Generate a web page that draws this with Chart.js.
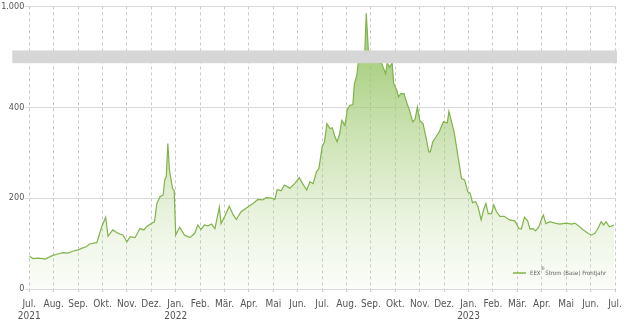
<!DOCTYPE html>
<html>
<head>
<meta charset="utf-8">
<script src="https://cdn.jsdelivr.net/npm/chart.js@4.4.1/dist/chart.umd.min.js"></script>
<style>
  html, body { margin: 0; padding: 0; background: #fff; }
  #wrap { width: 640px; height: 326px; }
</style>
</head>
<body>
<div id="wrap"><canvas id="chart"></canvas></div>
<script>
// Monatsbeschriftung der x-Achse (Jul. 2021 bis Jul. 2023)
const monthLabels = ['Jul.', 'Aug.', 'Sep.', 'Okt.', 'Nov.', 'Dez.', 'Jan.', 'Feb.', 'Mär.', 'Apr.', 'Mai', 'Jun.'];
const yearLabels = { 0: '2021', 6: '2022', 18: '2023' };
const yTickValues = [0, 200, 400, 1000];

// EEX Strom (Base) Frontjahr, EUR/MWh
const dates = [
    '2021-07-01', '2021-07-06', '2021-07-12', '2021-07-18', '2021-07-21', '2021-07-31',
    '2021-08-06', '2021-08-13', '2021-08-19', '2021-08-25', '2021-09-01', '2021-09-06',
    '2021-09-11', '2021-09-15', '2021-09-24', '2021-09-30', '2021-10-05', '2021-10-08',
    '2021-10-14', '2021-10-21', '2021-10-27', '2021-11-01', '2021-11-05', '2021-11-11',
    '2021-11-17', '2021-11-22', '2021-11-25', '2021-12-01', '2021-12-05', '2021-12-08',
    '2021-12-12', '2021-12-16', '2021-12-18', '2021-12-20', '2021-12-22', '2021-12-24',
    '2021-12-28', '2021-12-30', '2022-01-01', '2022-01-06', '2022-01-12', '2022-01-19',
    '2022-01-25', '2022-01-29', '2022-02-02', '2022-02-06', '2022-02-10', '2022-02-14',
    '2022-02-18', '2022-02-23', '2022-02-25', '2022-03-01', '2022-03-07', '2022-03-12',
    '2022-03-16', '2022-03-22', '2022-03-31', '2022-04-06', '2022-04-12', '2022-04-18',
    '2022-04-22', '2022-04-29', '2022-05-03', '2022-05-06', '2022-05-11', '2022-05-15',
    '2022-05-22', '2022-05-28', '2022-06-03', '2022-06-07', '2022-06-12', '2022-06-16',
    '2022-06-20', '2022-06-24', '2022-06-27', '2022-07-01', '2022-07-04', '2022-07-07',
    '2022-07-11', '2022-07-14', '2022-07-17', '2022-07-20', '2022-07-23', '2022-07-26',
    '2022-07-30', '2022-08-02', '2022-08-05', '2022-08-09', '2022-08-11', '2022-08-14',
    '2022-08-16', '2022-08-18', '2022-08-22', '2022-08-24', '2022-08-26', '2022-08-29',
    '2022-08-31', '2022-09-02', '2022-09-06', '2022-09-09', '2022-09-14', '2022-09-19',
    '2022-09-21', '2022-09-24', '2022-09-27', '2022-09-29', '2022-10-03', '2022-10-05',
    '2022-10-08', '2022-10-12', '2022-10-15', '2022-10-19', '2022-10-23', '2022-10-26',
    '2022-10-29', '2022-11-01', '2022-11-05', '2022-11-09', '2022-11-12', '2022-11-14',
    '2022-11-17', '2022-11-21', '2022-11-25', '2022-11-30', '2022-12-05', '2022-12-07',
    '2022-12-10', '2022-12-14', '2022-12-19', '2022-12-23', '2022-12-27', '2022-12-31',
    '2023-01-03', '2023-01-06', '2023-01-10', '2023-01-13', '2023-01-17', '2023-01-20',
    '2023-01-23', '2023-01-26', '2023-01-30', '2023-02-02', '2023-02-05', '2023-02-09',
    '2023-02-14', '2023-02-20', '2023-02-26', '2023-03-03', '2023-03-06', '2023-03-10',
    '2023-03-14', '2023-03-17', '2023-03-21', '2023-03-24', '2023-03-28', '2023-04-01',
    '2023-04-03', '2023-04-06', '2023-04-11', '2023-04-17', '2023-04-23', '2023-05-01',
    '2023-05-08', '2023-05-12', '2023-05-16', '2023-05-22', '2023-05-29', '2023-06-02',
    '2023-06-06', '2023-06-10', '2023-06-14', '2023-06-17', '2023-06-20', '2023-06-24',
    '2023-06-30'
];
const prices = [
    72, 67, 68, 67, 66, 74,
    77, 80, 79, 83, 86, 90,
    93, 99, 102, 137, 158, 116,
    130, 122, 119, 104, 115, 113,
    133, 130, 137, 144, 148, 188,
    203, 207, 240, 247, 320, 262,
    221, 217, 119, 136, 119, 113,
    122, 141, 131, 141, 139, 143,
    133, 180, 144, 159, 182, 163,
    153, 170, 181, 188, 197, 196,
    201, 200, 197, 219, 216, 229,
    222, 232, 245, 232, 218, 236,
    232, 258, 265, 313, 324, 364,
    353, 355, 336, 324, 340, 371,
    360, 395, 404, 406, 452, 470,
    530, 570, 640, 720, 985, 780,
    620, 560, 540, 520, 505, 474,
    505, 488, 505, 452, 437, 423,
    430, 430, 412, 393, 368, 373,
    401, 371, 364, 331, 302, 302,
    324, 335, 346, 368, 366, 391,
    371, 342, 287, 243, 240, 214,
    211, 190, 192, 181, 152, 174,
    188, 166, 166, 185, 170, 160,
    160, 152, 150, 133, 132, 158,
    150, 132, 133, 128, 136, 155,
    163, 144, 148, 145, 143, 145,
    143, 145, 140, 131, 122, 119,
    122, 133, 148, 141, 148, 137,
    141
];

// Achsenbruch: 497 bis 903 wird in einen schmalen Streifen gestaucht
const breakLow = 497;
const breakHigh = 903;
const breakSpan = 28;

const toDisplay = (v) => {
    if (v <= breakLow) return v;
    if (v <= breakHigh) return breakLow + (v - breakLow) * breakSpan / (breakHigh - breakLow);
    return v - (breakHigh - breakLow) + breakSpan;
};

const monthOffset = (s) => {
    const [y, m, d] = s.split('-').map(Number);
    const daysInMonth = new Date(y, m, 0).getDate();
    return (y - 2021) * 12 + (m - 7) + (d - 1) / daysInMonth;
};

const points = dates.map((d, i) => ({ x: monthOffset(d), y: toDisplay(prices[i]) }));
const displayTicks = yTickValues.map(toDisplay);

const formatDe = (v) => String(v).replace(/\B(?=(\d{3})+(?!\d))/g, '.');

const axisFont = '"Liberation Sans Narrow", "DejaVu Sans Condensed", sans-serif';

const breakBand = {
    id: 'breakBand',
    afterDatasetsDraw(chart) {
        const { ctx, chartArea, scales } = chart;
        const yTop = scales.y.getPixelForValue(breakLow + breakSpan);
        const yBottom = scales.y.getPixelForValue(breakLow);
        ctx.save();
        ctx.fillStyle = '#d6d6d6';
        ctx.fillRect(chartArea.left - 17, yTop, chartArea.right - chartArea.left + 19, yBottom - yTop);
        ctx.restore();
    }
};

const cornerLegend = {
    id: 'cornerLegend',
    afterDraw(chart) {
        const { ctx, chartArea } = chart;
        const ds = chart.data.datasets[0];
        const x = chartArea.right - 102;
        const y = chartArea.bottom - 16;
        ctx.save();
        ctx.strokeStyle = ds.borderColor;
        ctx.lineWidth = 1.5;
        ctx.beginPath();
        ctx.moveTo(x, y);
        ctx.lineTo(x + 13, y);
        ctx.stroke();
        ctx.fillStyle = '#666';
        ctx.textBaseline = 'middle';
        ctx.font = '6px ' + axisFont;
        ctx.fillText('EEX', x + 17, y);
        const w = ctx.measureText('EEX').width;
        ctx.font = '5px ' + axisFont;
        ctx.fillText('®', x + 17 + w, y - 4);
        ctx.font = '6px ' + axisFont;
        ctx.fillText(' Strom (Base) Frontjahr', x + 17 + w + 3, y);
        ctx.restore();
    }
};

new Chart(document.getElementById('chart'), {
    type: 'line',
    data: {
        datasets: [{
            label: 'EEX® Strom (Base) Frontjahr',
            data: points,
            borderColor: '#80b34a',
            borderWidth: 1.2,
            pointRadius: 0,
            tension: 0,
            fill: 'origin',
            backgroundColor: (context) => {
                const { ctx, chartArea, scales } = context.chart;
                if (!chartArea) return 'rgba(176,209,139,0.6)';
                const top = scales.y.getPixelForValue(breakLow);
                const g = ctx.createLinearGradient(0, top, 0, chartArea.bottom);
                g.addColorStop(0, 'rgba(150,196,100,0.78)');
                g.addColorStop(0.5, 'rgba(170,208,128,0.42)');
                g.addColorStop(1, 'rgba(200,225,170,0.08)');
                return g;
            }
        }]
    },
    options: {
        responsive: true,
        maintainAspectRatio: false,
        animation: false,
        layout: { padding: { left: 0, right: 25, top: 6, bottom: 0 } },
        plugins: {
            legend: { display: false },
            tooltip: { enabled: false }
        },
        scales: {
            x: {
                type: 'linear',
                min: 0,
                max: 24,
                afterBuildTicks: (scale) => {
                    scale.ticks = Array.from({ length: 25 }, (_, i) => ({ value: i }));
                },
                afterFit: (scale) => { scale.height = 37; },
                border: { display: false, dash: [3, 3] },
                grid: {
                    color: '#c8c8c8',
                    lineWidth: 1,
                    tickLength: 3
                },
                ticks: {
                    autoSkip: false,
                    maxRotation: 0,
                    padding: 6,
                    color: '#555',
                    font: { family: axisFont, size: 10 },
                    callback: (value) => {
                        const label = monthLabels[value % 12];
                        return yearLabels[value] ? [label, yearLabels[value]] : label;
                    }
                }
            },
            y: {
                min: 0,
                max: toDisplay(1000),
                afterBuildTicks: (scale) => {
                    scale.ticks = displayTicks.map(v => ({ value: v }));
                },
                afterFit: (scale) => { scale.width = 29.3; },
                border: { display: false },
                grid: {
                    color: '#dadada',
                    lineWidth: 1,
                    tickLength: 4
                },
                ticks: {
                    padding: 1,
                    color: '#555',
                    font: { family: axisFont, size: 9 },
                    callback: (value) => formatDe(yTickValues[displayTicks.indexOf(value)])
                }
            }
        }
    },
    plugins: [breakBand, cornerLegend]
});
</script>
</body>
</html>
